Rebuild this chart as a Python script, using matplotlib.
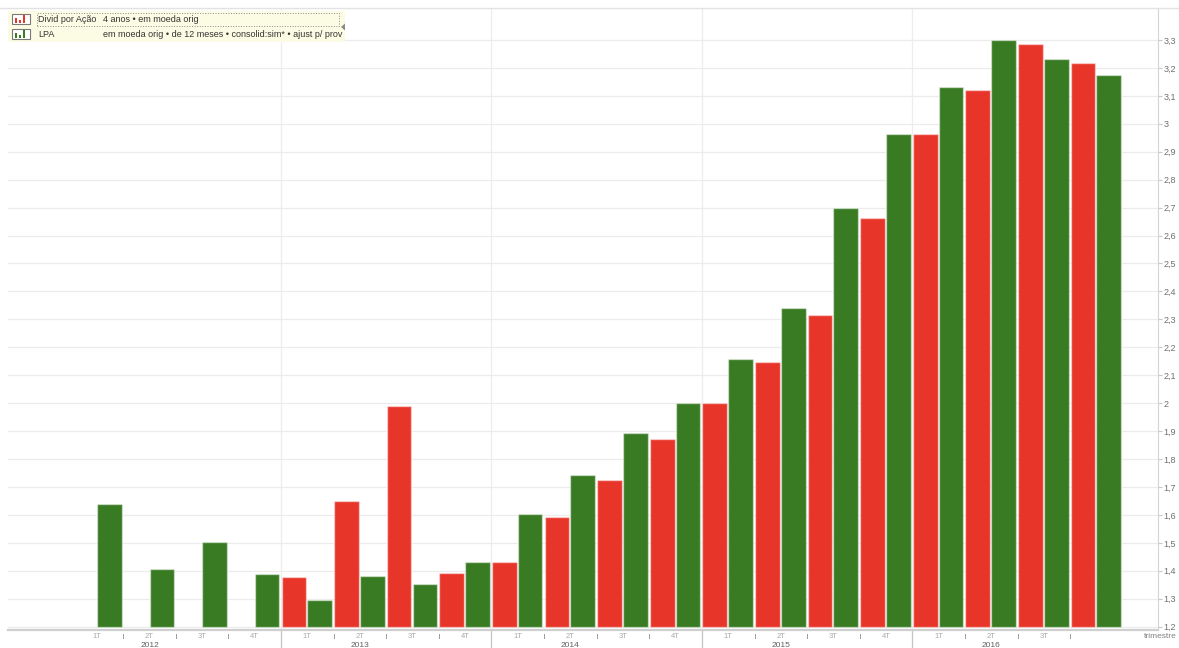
import matplotlib.pyplot as plt
import matplotlib.patches as mpatches
import matplotlib.transforms as mtransforms
from matplotlib.lines import Line2D
import numpy as np

plt.rcParams['font.family'] = ['Liberation Sans', 'DejaVu Sans']

W, H = 1179, 648

# dados trimestrais 2012-2016
rotulos_tri = ['1T', '2T', '3T', '4T'] * 4 + ['1T', '2T', '3T']
anos = ['2012', '2013', '2014', '2015', '2016']
divid = [np.nan, np.nan, np.nan, np.nan,
         1.376, 1.650, 1.989, 1.392,
         1.432, 1.594, 1.726, 1.872,
         2.000, 2.148, 2.316, 2.663,
         2.962, 3.121, 3.286, 3.218]
lpa = [1.640, 1.408, 1.503, 1.387,
       1.297, 1.382, 1.352, 1.432,
       1.602, 1.744, 1.894, 2.001,
       2.159, 2.341, 2.699, 2.962,
       3.131, 3.300, 3.232, 3.175]
yticks = np.round(np.arange(1.2, 3.31, 0.1), 1)

vermelho = '#e8352a'
verde = '#387b23'
base = 1.2


def px(x, y):
    return x / W, 1 - y / H


fig = plt.figure(figsize=(W / 100, H / 100), dpi=100)
ax = fig.add_axes([8 / W, 18 / H, 1150 / W, 622 / H])

x = np.arange(len(lpa))
ax.bar(x - 0.255, np.array(divid) - base, bottom=base, width=0.47, color=vermelho,
       edgecolor=(1, 1, 1, 0.45), linewidth=1.0, zorder=3)
ax.bar(x + 0.235, np.array(lpa) - base, bottom=base, width=0.47, color=verde,
       edgecolor=(1, 1, 1, 0.45), linewidth=1.0, zorder=3)

ax.set_xlim(-1.69, 20.17)
ax.set_ylim(1.188, 3.4145)

# grade
for v in yticks:
    ax.axhline(v, color='#ececec', linewidth=0.9, zorder=1)
for b in [3.5, 7.5, 11.5, 15.5]:
    ax.axvline(b, color='#ededed', linewidth=0.9, zorder=1)

ax.yaxis.tick_right()
ax.set_yticks(yticks)
ax.set_yticklabels([('%g' % v).replace('.', ',') for v in yticks])
ax.tick_params(axis='y', length=3, color='#c8c8c8', labelsize=6.5,
               labelcolor='#707070', pad=1)
ax.set_xticks([])

for s in ['left', 'top']:
    ax.spines[s].set_visible(False)
ax.spines['right'].set_color('#d4d4d4')
ax.spines['bottom'].set_color('#cfcfcf')
ax.spines['bottom'].set_linewidth(1.6)

# eixo x: trimestres e anos
trans = mtransforms.blended_transform_factory(ax.transData, ax.transAxes)
ah = 622.0
for i, r in enumerate(rotulos_tri):
    ax.text(i, -7 / ah, r, transform=trans, ha='center', va='center',
            fontsize=5.5, color='#a8a8a8')
for i in range(19):
    b = i + 0.5
    if b in (3.5, 7.5, 11.5, 15.5):
        ax.add_line(Line2D([b, b], [0, -20 / ah], transform=trans, color='#c4c4c4',
                           linewidth=0.9, clip_on=False))
    else:
        ax.add_line(Line2D([b, b], [-4 / ah, -8 / ah], transform=trans, color='#9a9a9a',
                           linewidth=0.7, clip_on=False))
for k, a in enumerate(anos):
    ax.text(1 + 4 * k, -15.5 / ah, a, transform=trans, ha='center', va='center',
            fontsize=6, color='#606060')

fig.text(*px(1177, 636), 'trimestre', ha='right', va='center', fontsize=6, color='#808080')

# linha superior
fig.add_artist(Line2D([0, 1], [1 - 8 / H, 1 - 8 / H], transform=fig.transFigure,
                      color='#e2e2e2', linewidth=1.0))

# legenda
fig.add_artist(mpatches.Rectangle(px(8, 42), 337 / W, 31 / H, transform=fig.transFigure,
                                  facecolor='#fcfce4', edgecolor='none'))
fig.add_artist(mpatches.Rectangle(px(37, 26), 302 / W, 13 / H, transform=fig.transFigure,
                                  fill=False, edgecolor='#8a8a8a', linestyle=':', linewidth=0.7))

for y0, cor in [(24, vermelho), (39, verde)]:
    fig.add_artist(mpatches.Rectangle(px(12, y0), 18 / W, 10 / H, transform=fig.transFigure,
                                      facecolor='white', edgecolor='#7a7a7a', linewidth=0.8))
    for bx, bh in [(14.5, 4), (19, 2), (23, 7)]:
        fig.add_artist(mpatches.Rectangle(px(bx, y0 - 1.5), 2.5 / W, bh / H,
                                          transform=fig.transFigure, facecolor=cor,
                                          edgecolor='none'))

leg = dict(ha='left', va='center', fontsize=6.5, color='#333333')
fig.text(*px(38, 19.5), 'Divid por Ação', **leg)
fig.text(*px(103, 19.5), '4 anos • em moeda orig', **leg)
fig.text(*px(38, 34.5), 'LPA', **leg)
fig.text(*px(103, 34.5), 'em moeda orig • de 12 meses • consolid:sim* • ajust p/ prov', **leg)

fig.add_artist(mpatches.Polygon([px(345, 23.5), px(345, 30.5), px(341, 27)], closed=True,
                                transform=fig.transFigure, facecolor='#8a8a8a',
                                edgecolor='none'))

fig.savefig('out.png', dpi=100)
